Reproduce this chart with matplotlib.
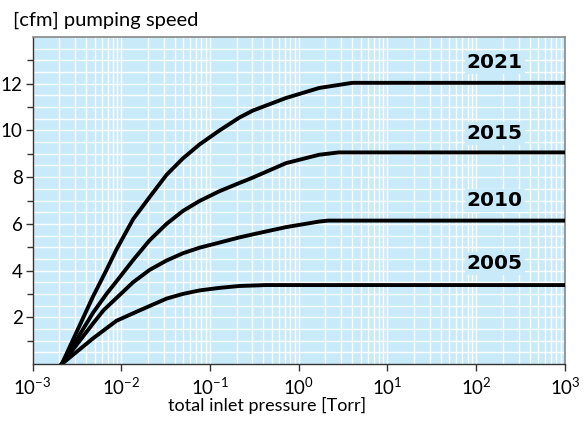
import numpy as np
import matplotlib
matplotlib.use('Agg')
from matplotlib import pyplot as plt
from matplotlib.ticker import FixedLocator, LogLocator, LogFormatterMathtext, NullFormatter

plt.rcParams['font.family'] = ['Lato', 'DejaVu Sans']
plt.rcParams['mathtext.default'] = 'regular'

# pressure [Torr] / pumping speed [cfm]
p2021 = [2.14e-3, 4.82e-3, 6.76e-3, 8.83e-3, 1.36e-2, 2.09e-2, 3.24e-2, 4.94e-2, 7.62e-2,
         0.128, 0.214, 0.303, 0.718, 1.70, 4.02, 1000]
s2021 = [0, 2.9, 4.0, 4.9, 6.2, 7.15, 8.1, 8.8, 9.4, 10.0, 10.55, 10.85, 11.39, 11.82, 12.04, 12.04]

p2015 = [2.14e-3, 4.82e-3, 6.82e-3, 1.0e-2, 1.36e-2, 2.09e-2, 3.24e-2, 4.94e-2, 7.62e-2,
         0.128, 0.214, 0.303, 0.718, 1.70, 2.82, 1000]
s2015 = [0, 2.2, 3.0, 3.8, 4.45, 5.3, 6.0, 6.55, 6.98, 7.4, 7.75, 7.98, 8.6, 8.96, 9.06, 9.06]

p2010 = [2.14e-3, 4.82e-3, 6.31e-3, 1.36e-2, 2.09e-2, 3.24e-2, 4.94e-2, 7.62e-2,
         0.128, 0.214, 0.303, 0.718, 1.70, 2.14, 1000]
s2010 = [0, 1.74, 2.3, 3.5, 4.03, 4.43, 4.74, 4.98, 5.2, 5.42, 5.55, 5.86, 6.1, 6.14, 6.14]

p2005 = [2.14e-3, 4.82e-3, 8.83e-3, 1.62e-2, 3.24e-2, 4.94e-2, 7.62e-2, 0.128, 0.214, 0.427, 1000]
s2005 = [0, 1.1, 1.85, 2.3, 2.8, 3.0, 3.15, 3.26, 3.34, 3.38, 3.38]

series = [('2021', p2021, s2021, 12.89),
          ('2015', p2015, s2015, 9.87),
          ('2010', p2010, s2010, 7.02),
          ('2005', p2005, s2005, 4.3)]

bg = '#c8eaf9'

fig = plt.figure(figsize=(5.86, 4.21), dpi=100)
ax = fig.add_axes([0.0555, 0.1354, 0.9085, 0.7766])
ax.set_facecolor(bg)

ax.set_xscale('log')
ax.set_xlim(1e-3, 1e3)
ax.set_ylim(0, 14)

# grid
for yy in np.arange(0.5, 14, 0.5):
    ax.axhline(yy, color='white', lw=1.0, zorder=1)
ax.xaxis.set_major_locator(LogLocator(base=10, numticks=10))
ax.xaxis.set_minor_locator(LogLocator(base=10, subs=np.arange(2, 10), numticks=20))
ax.xaxis.set_major_formatter(LogFormatterMathtext())
ax.xaxis.set_minor_formatter(NullFormatter())
ax.grid(True, which='both', axis='x', color='white', lw=1.0, zorder=1)
ax.set_axisbelow(True)

ax.yaxis.set_major_locator(FixedLocator([2, 4, 6, 8, 10, 12]))
ax.yaxis.set_minor_locator(FixedLocator([1, 3, 5, 7, 9, 11, 13]))

for name, p, s, ly in series:
    ax.plot(p, s, color='black', lw=2.8, solid_joinstyle='round', zorder=3)
    ax.text(161, ly, name, ha='center', va='center', fontsize=14.5, fontweight='bold',
            family='DejaVu Sans',
            bbox=dict(facecolor=bg, edgecolor='none', pad=1.5), zorder=4)

ax.tick_params(axis='both', which='major', labelsize=13.5, length=5, width=1, color='#333333', direction='out')
ax.tick_params(axis='y', which='minor', length=4, width=1, color='#333333')
ax.tick_params(axis='x', which='minor', length=0)
ax.tick_params(axis='y', pad=2)
ax.tick_params(axis='x', pad=4)

for side in ['left', 'bottom']:
    ax.spines[side].set_color('#333333')
    ax.spines[side].set_linewidth(1.0)
for side in ['top', 'right']:
    ax.spines[side].set_color('#888888')
    ax.spines[side].set_linewidth(1.2)

fig.text(13 / 586, 1 - 20 / 421, '[cfm] pumping speed', fontsize=14.5, ha='left', va='center')
fig.text(267 / 586, 1 - 405 / 421, 'total inlet pressure [Torr]', fontsize=13, ha='center', va='center')

plt.savefig('out.png', dpi=100)
